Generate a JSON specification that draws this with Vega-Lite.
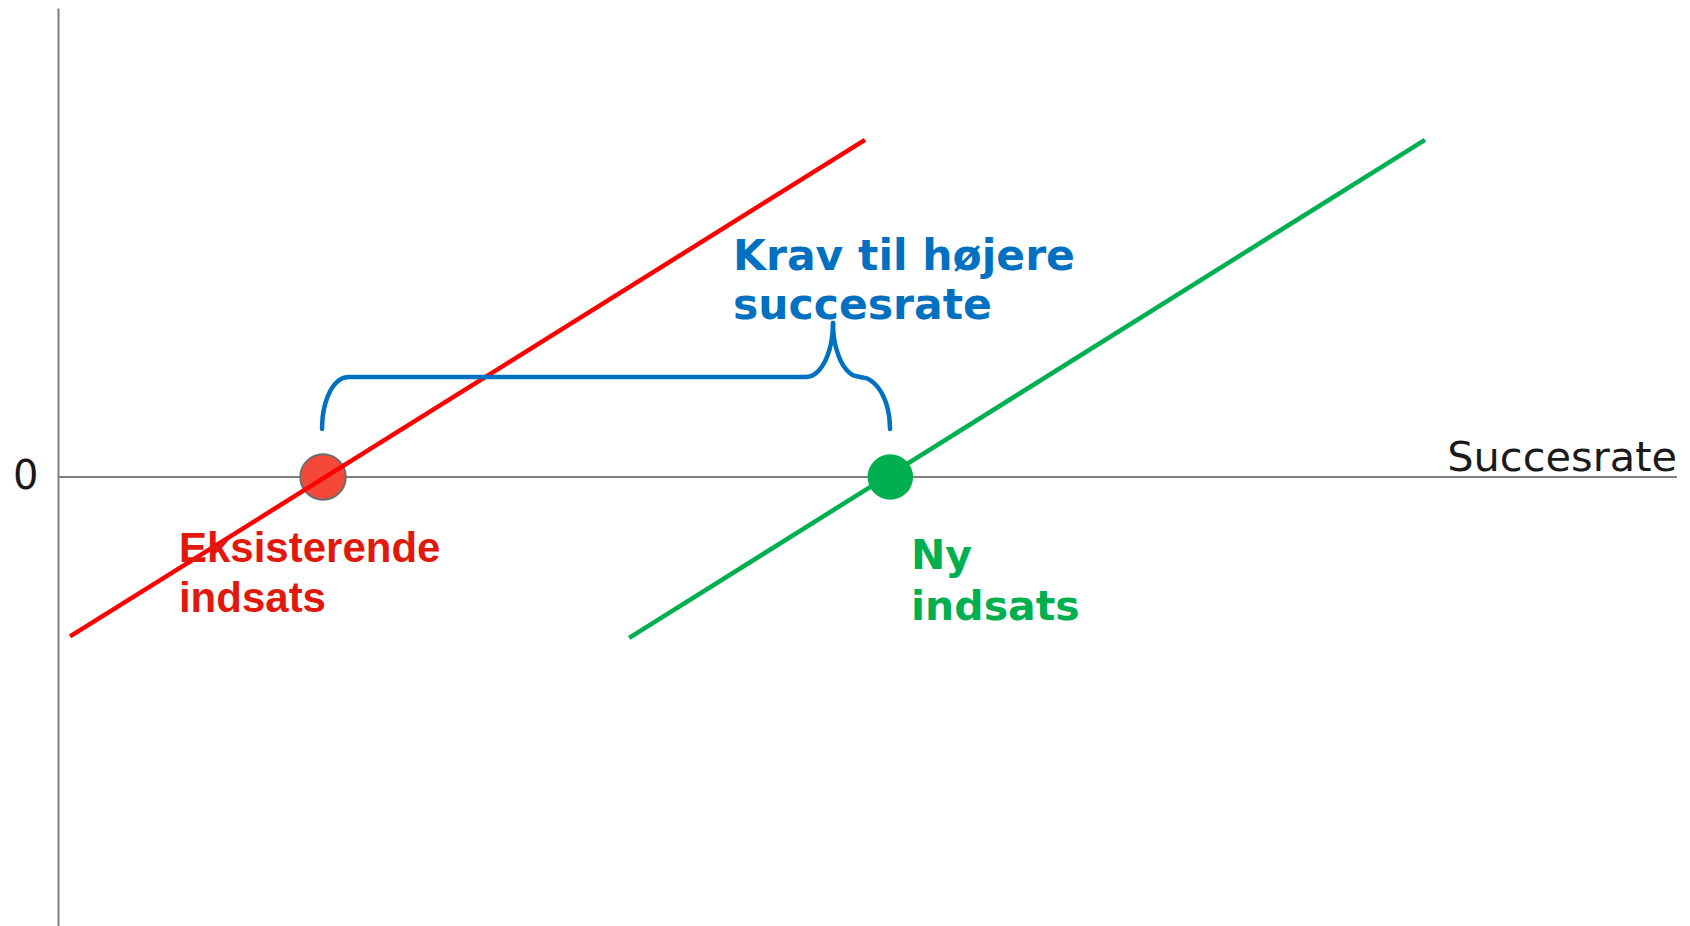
{
  "$schema": "https://vega.github.io/schema/vega-lite/v6.json",
  "width": 1632,
  "height": 918,
  "autosize": {"type": "none"},
  "padding": {"left": 58, "top": 8, "right": 0, "bottom": 0},
  "background": "white",
  "config": {"view": {"stroke": null}},
  "datasets": {
    "axisline": [{"x": 0, "x2": 99.2, "y": 0}],
    "redpt": [{"x": 16.24, "y": 0}],
    "greenpt": [{"x": 51.0, "y": 0}],
    "lines": [
      {"serie": "Eksisterende indsats", "x": 0.74, "y": -34.0},
      {"serie": "Eksisterende indsats", "x": 49.45, "y": 71.9},
      {"serie": "Ny indsats", "x": 35.0, "y": -34.3},
      {"serie": "Ny indsats", "x": 83.76, "y": 71.9}
    ],
    "brace": [
      {"seg": "a", "i": 1, "x": 16.18, "y": 10.23},
      {"seg": "a", "i": 2, "x": 16.23, "y": 13.11},
      {"seg": "a", "i": 3, "x": 16.39, "y": 15.78},
      {"seg": "a", "i": 4, "x": 16.64, "y": 18.08},
      {"seg": "a", "i": 5, "x": 16.97, "y": 19.83},
      {"seg": "a", "i": 6, "x": 17.36, "y": 20.94},
      {"seg": "a", "i": 7, "x": 17.77, "y": 21.32},
      {"seg": "a", "i": 8, "x": 18.14, "y": 21.32},
      {"seg": "a", "i": 9, "x": 45.47, "y": 21.32},
      {"seg": "a", "i": 10, "x": 45.83, "y": 21.32},
      {"seg": "a", "i": 11, "x": 46.26, "y": 21.71},
      {"seg": "a", "i": 12, "x": 46.66, "y": 22.86},
      {"seg": "a", "i": 13, "x": 47.00, "y": 24.69},
      {"seg": "a", "i": 14, "x": 47.27, "y": 27.08},
      {"seg": "a", "i": 15, "x": 47.43, "y": 29.85},
      {"seg": "a", "i": 16, "x": 47.49, "y": 32.84},
      {"seg": "b", "i": 17, "x": 47.49, "y": 32.84},
      {"seg": "b", "i": 18, "x": 47.54, "y": 29.85},
      {"seg": "b", "i": 19, "x": 47.71, "y": 27.08},
      {"seg": "b", "i": 20, "x": 47.97, "y": 24.69},
      {"seg": "b", "i": 21, "x": 48.31, "y": 22.86},
      {"seg": "b", "i": 22, "x": 48.71, "y": 21.71},
      {"seg": "b", "i": 23, "x": 49.14, "y": 21.32},
      {"seg": "b", "i": 24, "x": 49.62, "y": 20.94},
      {"seg": "b", "i": 25, "x": 50.06, "y": 19.83},
      {"seg": "b", "i": 26, "x": 50.44, "y": 18.08},
      {"seg": "b", "i": 27, "x": 50.74, "y": 15.78},
      {"seg": "b", "i": 28, "x": 50.92, "y": 13.11},
      {"seg": "b", "i": 29, "x": 50.98, "y": 10.23}
    ],
    "bluetext": [
      {"t": "Krav til højere", "x": 41.36, "y": 44.14},
      {"t": "succesrate", "x": 41.36, "y": 33.69}
    ],
    "redtext": [
      {"t": "Eksisterende", "x": 7.41, "y": -18.02},
      {"t": "indsats", "x": 7.41, "y": -28.78}
    ],
    "greentext": [
      {"t": "Ny", "x": 52.27, "y": -19.62},
      {"t": "indsats", "x": 52.27, "y": -30.49}
    ],
    "axistitle": [{"t": "Succesrate", "x": 99.2, "y": 1.28}]
  },
  "layer": [
    {
      "data": {"name": "axisline"},
      "mark": {"type": "rule", "color": "#808080", "strokeWidth": 2},
      "encoding": {
        "x": {"field": "x", "type": "quantitative", "scale": {"domain": [0, 100], "nice": false, "zero": false}, "axis": null},
        "x2": {"field": "x2"},
        "y": {"field": "y", "type": "quantitative", "scale": {"domain": [-95.74, 100], "nice": false, "zero": false},
          "axis": {"values": [0], "title": null, "ticks": false, "grid": false, "domainColor": "#808080", "domainWidth": 2, "labelFont": "DejaVu Sans", "labelFontSize": 40, "labelColor": "#1a1a1a", "labelPadding": 20, "labelBaseline": "middle", "labelAlign": "right"}}
      }
    },
    {
      "data": {"name": "redpt"},
      "mark": {"type": "point", "shape": "circle", "filled": true, "fill": "#F4483A", "stroke": "#6d6d6d", "strokeWidth": 2, "size": 2070, "opacity": 1},
      "encoding": {
        "x": {"field": "x", "type": "quantitative", "scale": {"domain": [0, 100], "nice": false, "zero": false}, "axis": null},
        "y": {"field": "y", "type": "quantitative", "scale": {"domain": [-95.74, 100], "nice": false, "zero": false}}
      }
    },
    {
      "data": {"name": "lines"},
      "mark": {"type": "line", "strokeWidth": 4.5},
      "encoding": {
        "x": {"field": "x", "type": "quantitative", "scale": {"domain": [0, 100], "nice": false, "zero": false}, "axis": null},
        "y": {"field": "y", "type": "quantitative", "scale": {"domain": [-95.74, 100], "nice": false, "zero": false}},
        "color": {"field": "serie", "type": "nominal", "scale": {"domain": ["Eksisterende indsats", "Ny indsats"], "range": ["#FF0000", "#00B050"]}, "legend": null}
      }
    },
    {
      "data": {"name": "greenpt"},
      "mark": {"type": "point", "shape": "circle", "filled": true, "fill": "#00B050", "strokeWidth": 0, "size": 2070, "opacity": 1},
      "encoding": {
        "x": {"field": "x", "type": "quantitative", "scale": {"domain": [0, 100], "nice": false, "zero": false}, "axis": null},
        "y": {"field": "y", "type": "quantitative", "scale": {"domain": [-95.74, 100], "nice": false, "zero": false}}
      }
    },
    {
      "data": {"name": "brace"},
      "mark": {"type": "line", "color": "#0070C0", "strokeWidth": 4.5, "interpolate": "catmull-rom", "strokeCap": "round", "strokeJoin": "round"},
      "encoding": {
        "x": {"field": "x", "type": "quantitative", "scale": {"domain": [0, 100], "nice": false, "zero": false}, "axis": null},
        "y": {"field": "y", "type": "quantitative", "scale": {"domain": [-95.74, 100], "nice": false, "zero": false}},
        "detail": {"field": "seg", "type": "nominal"},
        "order": {"field": "i", "type": "quantitative"}
      }
    },
    {
      "data": {"name": "bluetext"},
      "mark": {"type": "text", "font": "DejaVu Sans", "fontWeight": "bold", "fontSize": 42.5, "color": "#0070C0", "align": "left", "baseline": "alphabetic"},
      "encoding": {
        "x": {"field": "x", "type": "quantitative", "scale": {"domain": [0, 100], "nice": false, "zero": false}, "axis": null},
        "y": {"field": "y", "type": "quantitative", "scale": {"domain": [-95.74, 100], "nice": false, "zero": false}},
        "text": {"field": "t"}
      }
    },
    {
      "data": {"name": "redtext"},
      "mark": {"type": "text", "font": "Liberation Sans", "fontWeight": "bold", "fontSize": 42, "color": "#E1190C", "align": "left", "baseline": "alphabetic"},
      "encoding": {
        "x": {"field": "x", "type": "quantitative", "scale": {"domain": [0, 100], "nice": false, "zero": false}, "axis": null},
        "y": {"field": "y", "type": "quantitative", "scale": {"domain": [-95.74, 100], "nice": false, "zero": false}},
        "text": {"field": "t"}
      }
    },
    {
      "data": {"name": "greentext"},
      "mark": {"type": "text", "font": "DejaVu Sans", "fontWeight": "bold", "fontSize": 41, "color": "#00B050", "align": "left", "baseline": "alphabetic"},
      "encoding": {
        "x": {"field": "x", "type": "quantitative", "scale": {"domain": [0, 100], "nice": false, "zero": false}, "axis": null},
        "y": {"field": "y", "type": "quantitative", "scale": {"domain": [-95.74, 100], "nice": false, "zero": false}},
        "text": {"field": "t"}
      }
    },
    {
      "data": {"name": "axistitle"},
      "mark": {"type": "text", "font": "DejaVu Sans", "fontSize": 41.5, "color": "#1a1a1a", "align": "right", "baseline": "alphabetic"},
      "encoding": {
        "x": {"field": "x", "type": "quantitative", "scale": {"domain": [0, 100], "nice": false, "zero": false}, "axis": null},
        "y": {"field": "y", "type": "quantitative", "scale": {"domain": [-95.74, 100], "nice": false, "zero": false}},
        "text": {"field": "t"}
      }
    }
  ]
}
